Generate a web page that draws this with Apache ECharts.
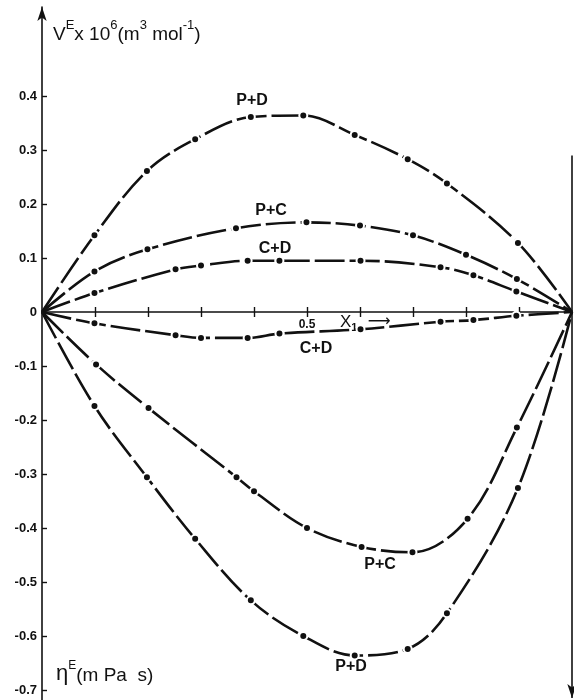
<!DOCTYPE html>
<html>
<head>
<meta charset="utf-8">
<script src="https://cdn.jsdelivr.net/npm/echarts@6/dist/echarts.min.js"></script>
<style>
html,body{margin:0;padding:0;background:#fff;}
#c{width:574px;height:700px;}
</style>
</head>
<body>
<div id="c"></div>
<script>
const xPD = [0.099, 0.198, 0.289, 0.394, 0.493, 0.590, 0.690, 0.764, 0.898];
const vePD = [0.142, 0.261, 0.320, 0.361, 0.364, 0.328, 0.283, 0.238, 0.128];
const etaPD = [-0.174, -0.306, -0.420, -0.534, -0.600, -0.636, -0.624, -0.558, -0.326];

const xPC_V = [0.099, 0.199, 0.366, 0.499, 0.600, 0.700, 0.800, 0.896];
const vePC = [0.075, 0.116, 0.155, 0.166, 0.160, 0.142, 0.106, 0.061];
const xPC_eta = [0.102, 0.201, 0.367, 0.400, 0.500, 0.603, 0.699, 0.803, 0.896];
const etaPC = [-0.097, -0.178, -0.306, -0.332, -0.400, -0.435, -0.445, -0.383, -0.214];

const xCD = [0.099, 0.252, 0.300, 0.388, 0.448, 0.601, 0.752, 0.814, 0.895];
const veCD = [0.035, 0.079, 0.086, 0.095, 0.095, 0.095, 0.083, 0.068, 0.038];
const etaCD = [-0.021, -0.043, -0.048, -0.048, -0.040, -0.032, -0.018, -0.015, -0.007];

// pure components (x1 = 0 and x1 = 1) have zero excess property
const pureX = [0, 1];
const pureY = [0, 0];

const yTicks = [-0.7, -0.6, -0.5, -0.4, -0.3, -0.2, -0.1, 0, 0.1, 0.2, 0.3, 0.4];
const xTicks = [0.1, 0.2, 0.3, 0.4, 0.5, 0.6, 0.7, 0.8, 0.9];
const xLabels = [0.5];
const rightLineY = [0.29, -0.715];

const FONT = '"Liberation Sans", Arial, sans-serif';
const Y_MIN = -0.7185, Y_MAX = 0.5648;
const GRID_TOP = 7, GRID_BOTTOM = 0, H = 700;
// pixel offset that moves the x axis from the grid bottom up to y = 0
const plotH = H - GRID_TOP - GRID_BOTTOM;
const zeroOffset = -plotH * (0 - Y_MIN) / (Y_MAX - Y_MIN);

function build(xs, ys) {
  const pts = [{ value: [pureX[0], pureY[0]], symbol: 'none' }];
  xs.forEach((x, i) => pts.push([x, ys[i]]));
  pts.push({ value: [pureX[1], pureY[1]], symbol: 'none' });
  return pts;
}

function curve(name, xs, ys) {
  return {
    name: name,
    type: 'line',
    data: build(xs, ys),
    smooth: 0.35,
    symbol: 'circle',
    symbolSize: 8,
    showSymbol: true,
    itemStyle: { color: '#111', borderColor: '#fff', borderWidth: 2 },
    lineStyle: { color: '#111', width: 2.6, type: [30, 5] },
    silent: true,
    z: 3
  };
}

const series = [
  curve('P+D V', xPD, vePD),
  curve('P+C V', xPC_V, vePC),
  curve('C+D V', xCD, veCD),
  curve('C+D eta', xCD, etaCD),
  curve('P+C eta', xPC_eta, etaPC),
  curve('P+D eta', xPD, etaPD)
];
series[0].markLine = {
  silent: true,
  symbol: ['none', 'arrow'],
  symbolSize: [7, 14],
  label: { show: false },
  lineStyle: { color: '#111', width: 1.6, type: 'solid' },
  data: [[{ coord: [1, rightLineY[0]] }, { coord: [1, rightLineY[1]] }]]
};

const chart = echarts.init(document.getElementById('c'));
chart.setOption({
  animation: false,
  backgroundColor: '#fff',
  grid: { left: 42, right: 2, top: GRID_TOP, bottom: GRID_BOTTOM, containLabel: false, outerBoundsMode: 'none' },
  xAxis: [
    {
      type: 'value', min: 0, max: 1, position: 'bottom', offset: zeroOffset,
      axisLine: { show: true, onZero: false, lineStyle: { color: '#111', width: 1.6 } },
      axisTick: { show: true, customValues: xTicks, length: 5, lineStyle: { color: '#111', width: 1.4 } },
      axisLabel: { show: true, customValues: xLabels, margin: 7, color: '#111', fontSize: 12, fontWeight: 'bold', fontFamily: FONT,
        formatter: v => v.toFixed(1) },
      splitLine: { show: false }
    },
    {
      type: 'value', min: 0, max: 1, position: 'bottom', offset: zeroOffset,
      axisLine: { show: false, onZero: false },
      axisTick: { show: true, inside: true, customValues: xTicks, length: 5, lineStyle: { color: '#111', width: 1.4 } },
      axisLabel: { show: false },
      splitLine: { show: false }
    }
  ],
  yAxis: {
    type: 'value', min: Y_MIN, max: Y_MAX,
    axisLine: { show: true, onZero: false, symbol: ['none', 'arrow'], symbolSize: [7, 14],
      lineStyle: { color: '#111', width: 1.6 } },
    axisTick: { show: true, inside: true, customValues: yTicks, length: 5, lineStyle: { color: '#111', width: 1.4 } },
    axisLabel: { show: true, customValues: yTicks, margin: 5, color: '#111', fontSize: 13, fontWeight: 'bold', fontFamily: FONT,
      formatter: v => (Math.abs(v) < 1e-9 ? '0' : (v < 0 ? '-' + Math.abs(v).toFixed(1) : v.toFixed(1))) },
    splitLine: { show: false }
  },
  series: series,
  graphic: [
    {
      type: 'text', x: 53, y: 19, silent: true,
      style: {
        text: '{m|V}{s|E}{m|x 10}{s|6}{m|(m}{s|3}{m| mol}{s|-1}{m|)}',
        rich: {
          m: { fontSize: 19, fontFamily: FONT, fill: '#111', verticalAlign: 'bottom', lineHeight: 25 },
          s: { fontSize: 13, fontFamily: FONT, fill: '#111', verticalAlign: 'top', lineHeight: 25 }
        }
      }
    },
    {
      type: 'text', x: 56, y: 660, silent: true,
      style: {
        text: '{g|η}{s|E}{m|(m Pa  s)}',
        rich: {
          g: { fontSize: 22, fontFamily: FONT, fill: '#111', verticalAlign: 'bottom', lineHeight: 25 },
          m: { fontSize: 19, fontFamily: FONT, fill: '#111', verticalAlign: 'bottom', lineHeight: 25 },
          s: { fontSize: 12, fontFamily: FONT, fill: '#111', verticalAlign: 'top', lineHeight: 25 }
        }
      }
    },
    { type: 'text', x: 252, y: 101, silent: true, style: { text: 'P+D', font: 'bold 16px ' + FONT, fill: '#111', textAlign: 'center', textVerticalAlign: 'middle' } },
    { type: 'text', x: 271, y: 211, silent: true, style: { text: 'P+C', font: 'bold 16px ' + FONT, fill: '#111', textAlign: 'center', textVerticalAlign: 'middle' } },
    { type: 'text', x: 275, y: 249, silent: true, style: { text: 'C+D', font: 'bold 16px ' + FONT, fill: '#111', textAlign: 'center', textVerticalAlign: 'middle' } },
    { type: 'text', x: 316, y: 349, silent: true, style: { text: 'C+D', font: 'bold 16px ' + FONT, fill: '#111', textAlign: 'center', textVerticalAlign: 'middle' } },
    { type: 'text', x: 380, y: 565, silent: true, style: { text: 'P+C', font: 'bold 16px ' + FONT, fill: '#111', textAlign: 'center', textVerticalAlign: 'middle' } },
    { type: 'text', x: 351, y: 667, silent: true, style: { text: 'P+D', font: 'bold 16px ' + FONT, fill: '#111', textAlign: 'center', textVerticalAlign: 'middle' } },
    {
      type: 'text', x: 340, y: 314, silent: true,
      style: {
        text: '{m|X}{b|1}{a|  ⟶}',
        rich: {
          m: { fontSize: 17, fontFamily: FONT, fill: '#111', verticalAlign: 'top', lineHeight: 19 },
          b: { fontSize: 11, fontFamily: FONT, fontWeight: 'bold', fill: '#111', verticalAlign: 'bottom', lineHeight: 19 },
          a: { fontSize: 16, fontFamily: '"DejaVu Sans", sans-serif', fill: '#111', verticalAlign: 'top', lineHeight: 16 }
        }
      }
    }
  ]
});
</script>
</body>
</html>
